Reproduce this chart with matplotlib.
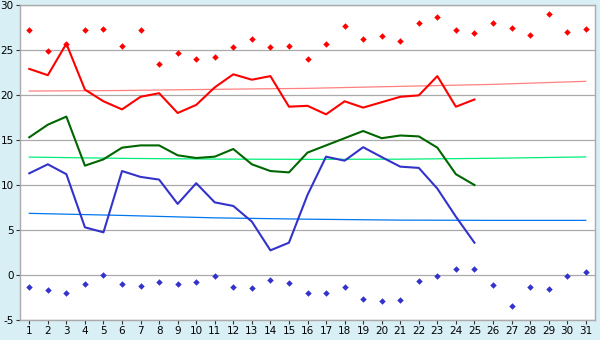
import matplotlib
matplotlib.use("Agg")
import matplotlib.pyplot as plt

plt.rcParams["axes.unicode_minus"] = False

days = list(range(1, 32))
line_days = list(range(1, 26))

max_markers = [27.2, 24.85, 25.7, 27.2, 27.3, 25.5, 27.2, 23.4, 24.7, 24.0,
               24.2, 25.3, 26.2, 25.3, 25.4, 24.0, 25.7, 27.7, 26.2, 26.6,
               26.0, 27.95, 28.7, 27.2, 26.85, 27.95, 27.4, 26.7, 29.0, 27.0, 27.3]
min_markers = [-1.37, -1.7, -2.04, -1.04, -0.04, -1.04, -1.26, -0.82, -1.04, -0.82,
               -0.15, -1.37, -1.48, -0.6, -0.93, -2.04, -2.04, -1.37, -2.7, -2.93,
               -2.81, -0.7, -0.15, 0.63, 0.63, -1.15, -3.48, -1.37, -1.59, -0.15, 0.3]

red_line = [22.9, 22.2, 25.7, 20.6, 19.3, 18.4, 19.8, 20.2, 18.0, 18.9,
            20.85, 22.3, 21.7, 22.1, 18.7, 18.8, 17.85, 19.3, 18.6, 19.2,
            19.8, 19.96, 22.1, 18.7, 19.5]
green_line = [15.3, 16.7, 17.6, 12.15, 12.85, 14.15, 14.4, 14.4, 13.3, 13.0,
              13.15, 14.0, 12.3, 11.55, 11.4, 13.6, 14.4, 15.2, 16.0, 15.2,
              15.5, 15.4, 14.15, 11.2, 10.0]
blue_line = [11.3, 12.3, 11.2, 5.3, 4.74, 11.55, 10.9, 10.6, 7.9, 10.2,
             8.07, 7.67, 5.93, 2.74, 3.59, 8.9, 13.15, 12.7, 14.2, 13.1,
             12.04, 11.9, 9.6, 6.48, 3.59]

trend_days = [1, 6, 11, 16, 21, 26, 31]
red_trend = [20.44, 20.5, 20.63, 20.74, 20.96, 21.18, 21.52]
green_trend = [13.1, 12.96, 12.88, 12.85, 12.87, 12.97, 13.12]
blue_trend = [6.85, 6.62, 6.35, 6.2, 6.1, 6.07, 6.07]

y_ticks = [-5, 0, 5, 10, 15, 20, 25, 30]

bg = "#D9EFF6"
fig = plt.figure(figsize=(6, 3.4), dpi=100, facecolor=bg)
ax = fig.add_axes([20 / 600, 20 / 340, 575 / 600, 315 / 340])
ax.set_facecolor("white")

for v in y_ticks:
    ax.axhline(v, color="#AAAAAA", lw=0.9, zorder=1)

ax.plot(trend_days, red_trend, color="#FF8080", lw=0.9, zorder=2)
ax.plot(trend_days, green_trend, color="#00EE77", lw=0.9, zorder=2)
ax.plot(trend_days, blue_trend, color="#0077EE", lw=0.9, zorder=2)

ax.plot(line_days, red_line, color="#FF0000", lw=1.5, zorder=3)
ax.plot(line_days, green_line, color="#006600", lw=1.5, zorder=3)
ax.plot(line_days, blue_line, color="#3333CC", lw=1.5, zorder=3)

ax.plot(days, max_markers, ls="none", marker="D", ms=3.3, color="#FF0000",
        mew=0, zorder=4)
ax.plot(days, min_markers, ls="none", marker="D", ms=3.3, color="#3333CC",
        mew=0, zorder=4)

ax.set_xlim(0.5, 31.5)
ax.set_ylim(-5, 30)
ax.set_xticks(days)
ax.set_xticklabels([str(d) for d in days])
ax.set_yticks(y_ticks)
ax.tick_params(axis="both", labelsize=7.5, color="#333333", length=3,
               width=0.8, pad=1.5, labelcolor="#000000")
for s in ax.spines.values():
    s.set_color("#AAAAAA")
    s.set_linewidth(1.0)

fig.savefig("out.png", dpi=100, facecolor=bg)
